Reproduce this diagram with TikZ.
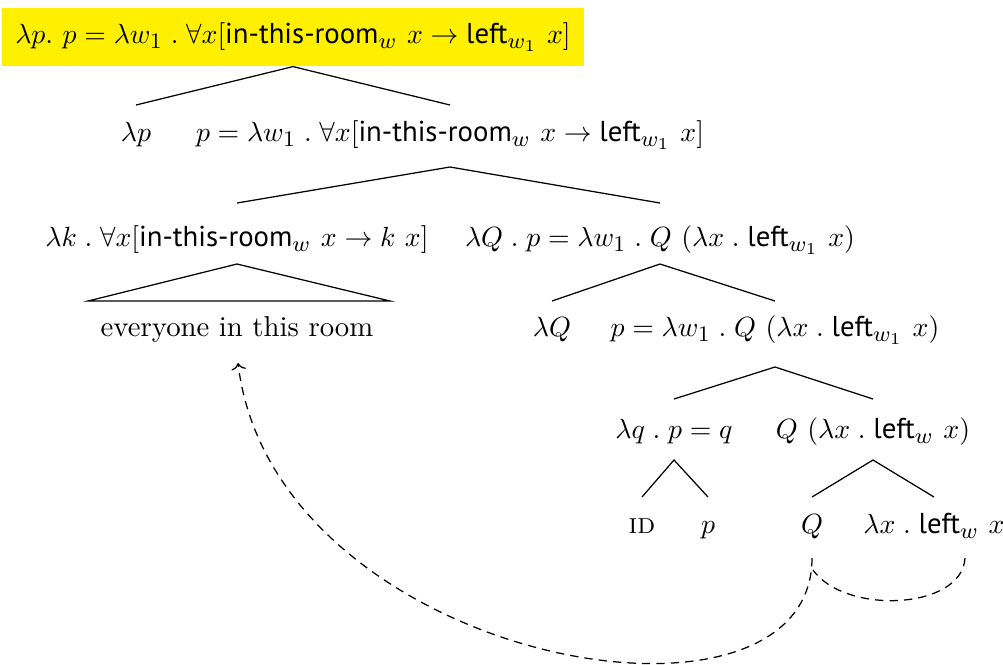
\documentclass[tikz,border=0pt]{standalone}
\usepackage{fontspec}
\setsansfont{PT Sans}
\usetikzlibrary{calc,arrows.meta}
\DeclareMathSizes{10.35}{10.35}{7.8}{6}
\definecolor{hl}{RGB}{255,240,0}
\newcommand{\sw}[1]{\textsf{#1}}
\begin{document}
\begin{tikzpicture}[x=0.36pt,y=-0.36pt,
  every node/.style={inner sep=0pt, text height=8pt, text depth=3pt, font=\fontsize{10.35}{12}\selectfont},
  branch/.style={line width=0.45pt},
  link/.style={dash pattern=on 3pt off 2.2pt, line width=0.45pt}]
\useasboundingbox (0,0) rectangle (1003,664);
% nodes
\node[fill=hl, minimum width=209.2pt, minimum height=20.9pt] (n1) at (293,37)
  {$\lambda p.\ p = \lambda w_1\;.\;\forall x[\sw{in-this-room}_w\ x \rightarrow \sw{left}_{w_1}\ x]$};
\node (n2a) at (136,135) {$\lambda p$};
\node (n2b) at (450,135) {$p = \lambda w_1\;.\;\forall x[\sw{in-this-room}_w\ x \rightarrow \sw{left}_{w_1}\ x]$};
\node (n3a) at (237,240) {$\lambda k\;.\;\forall x[\sw{in-this-room}_w\ x \rightarrow k\ x]$};
\node (n3b) at (660,240) {$\lambda Q\;.\;p = \lambda w_1\;.\;Q\ (\lambda x\;.\;\sw{left}_{w_1}\ x)$};
\node (n4a) at (237,330) {everyone in this room};
\node (n4b) at (552,330) {$\lambda Q$};
\node (n4c) at (775,330) {$p = \lambda w_1\;.\;Q\ (\lambda x\;.\;\sw{left}_{w_1}\ x)$};
\node (n5a) at (674,432) {$\lambda q\;.\;p = q$};
\node (n5b) at (873,432) {$Q\ (\lambda x\;.\;\sw{left}_{w}\ x)$};
\node (n6a) at (642,527) {\textsc{id}};
\node (n6b) at (708,527) {$p$};
\node (n6c) at (812,527) {$Q$};
\node (n6d) at (934,527) {$\lambda x\;.\;\sw{left}_{w}\ x$};
% branches
\draw[branch] ($(n2a)+(0,-30)$) -- (n1.south) -- ($(n2b)+(0,-30)$);
\draw[branch] ($(n3a)+(0,-37)$) -- ($(n2b)+(0,32)$) -- ($(n3b)+(0,-37)$);
\draw[branch] ($(n3a)+(0,24)$) -- ($(n4a)+(-149,-29)$) -- ($(n4a)+(153,-29)$) -- cycle;
\draw[branch] ($(n4b)+(0,-29)$) -- ($(n3b)+(0,24)$) -- ($(n4c)+(0,-29)$);
\draw[branch] ($(n5a)+(0,-33)$) -- ($(n4c)+(0,37)$) -- ($(n5b)+(0,-33)$);
\draw[branch] ($(n6a)+(0,-30)$) -- ($(n5a)+(0,28)$) -- ($(n6b)+(0,-30)$);
\draw[branch] ($(n6c)+(0,-30)$) -- ($(n5b)+(0,28)$) -- ($(n6d)+(0,-30)$);
% dashed links
\coordinate (qb) at ($(n6c)+(0,31)$);
\coordinate (qj) at ($(n6c)+(1,43)$);
\draw[link,-{To[length=2.4pt,width=5.2pt]}] (qb) .. controls (812,758) and (274,663) .. ($(n4a)+(1,33)$);
\draw[link] ($(n6d)+(31,31)$) .. controls (962,610) and (845,615) .. (qj);
\end{tikzpicture}
\end{document}
